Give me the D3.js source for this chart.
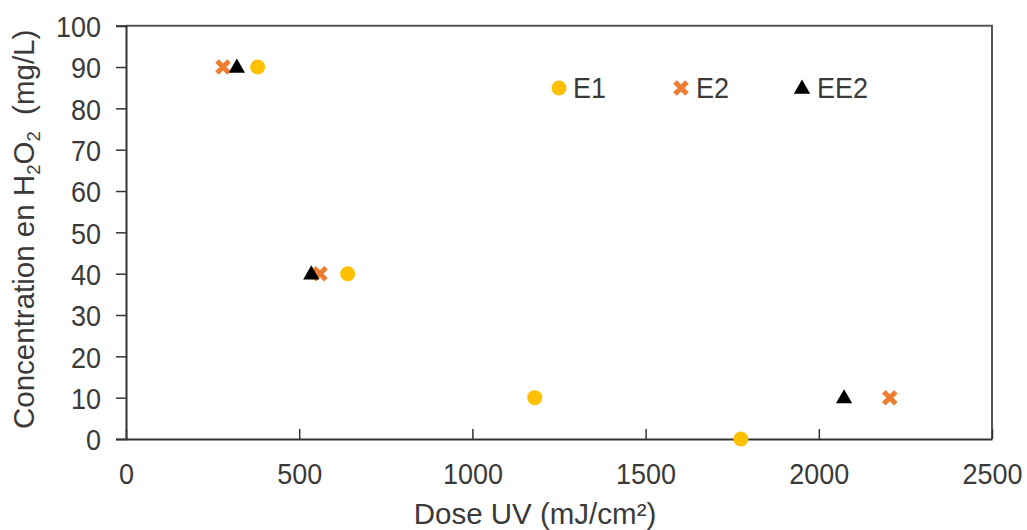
<!DOCTYPE html>
<html><head><meta charset="utf-8">
<script src="https://cdn.jsdelivr.net/npm/d3@7"></script>
<style>body{margin:0;background:#fff}svg{display:block}text{font-family:"Liberation Sans",Arial,sans-serif;fill:#3a3a3a}</style>
</head><body><svg id="c" width="1027" height="530"></svg>
<script>
const seriesNames = ["E1","E2","EE2"];
const e1Dose = [380, 640, 1180, 1775];
const e1Conc = [90, 40, 10, 0];
const e2Dose = [280, 560, 2205];
const e2Conc = [90, 40, 10];
const ee2Dose = [320, 535, 2073];
const ee2Conc = [90, 40, 10];
const xTicks = [0, 500, 1000, 1500, 2000, 2500];
const yTicks = [0,10,20,30,40,50,60,70,80,90,100];
const colors = {E1:"#FFC000", E2:"#ED7D31", EE2:"#000000"};

const svg = d3.select("#c");
const L=126, R=992, T=25.7, B=439;
const x = d3.scaleLinear().domain([0,2500]).range([L,R]);
const y = d3.scaleLinear().domain([0,100]).range([B,T]);
const SY = 1.12;
function stretch(sel){
  sel.each(function(){
    const t=d3.select(this);
    const tx=+t.attr("x")||0, ty=+t.attr("y")||0;
    t.attr("transform",`translate(${tx},${ty}) scale(1,${SY}) translate(${-tx},${-ty})`);
  });
}

// box top/right
svg.append("path").attr("d",`M${L},${T}H${R}V${B}`).attr("fill","none").attr("stroke","#555").attr("stroke-width",2);

// y axis
const ya = svg.append("g").attr("transform",`translate(${L},0)`)
  .call(d3.axisLeft(y).tickValues(yTicks).tickFormat(d3.format("d")).tickSize(10).tickPadding(15));
ya.select(".domain").attr("stroke","#333").attr("stroke-width",2);
ya.selectAll(".tick line").attr("stroke","#333").attr("stroke-width",1.5);
ya.selectAll("text").attr("font-size",27).attr("fill","#3a3a3a").attr("font-family","Liberation Sans, Arial, sans-serif").attr("dy","0.36em").call(stretch);

// x axis with inward ticks
const xa = svg.append("g").attr("transform",`translate(0,${B})`)
  .call(d3.axisBottom(x).tickValues(xTicks).tickFormat(d3.format("d")).tickSize(0).tickPadding(0));
xa.select(".domain").attr("stroke","#333").attr("stroke-width",2);
xa.selectAll(".tick line").attr("y2",-10).attr("stroke","#333").attr("stroke-width",1.5);
xa.selectAll("text").attr("font-size",27).attr("fill","#3a3a3a").attr("font-family","Liberation Sans, Arial, sans-serif").attr("y",45).attr("dy",0).call(stretch);

// titles
svg.append("text").attr("x",535).attr("y",524).attr("text-anchor","middle").attr("font-size",29.5).text("Dose UV (mJ/cm²)");
const yt = svg.append("text").attr("transform",`translate(34,${(T+B)/2 - 3}) rotate(-90)`).attr("text-anchor","middle").attr("font-size",29.5);
yt.append("tspan").text("Concentration en H");
yt.append("tspan").attr("font-size",18.5).attr("dy",6).text("2");
yt.append("tspan").attr("dy",-6).text("O");
yt.append("tspan").attr("font-size",18.5).attr("dy",6).text("2");
yt.append("tspan").attr("dy",-6).text("\u00a0\u00a0(mg/L)");

// marker drawers
function drawCircle(g,cx,cy){ g.append("circle").attr("cx",cx).attr("cy",cy).attr("r",7.5).attr("fill",colors.E1); }
function drawX(g,cx,cy){
  const s=6;
  g.append("path").attr("d",`M${cx-s},${cy-s}L${cx+s},${cy+s}M${cx-s},${cy+s}L${cx+s},${cy-s}`)
   .attr("stroke",colors.E2).attr("stroke-width",5).attr("stroke-linecap","butt");
}
function drawTri(g,cx,cy){
  g.append("path").attr("d",d3.symbol().type(d3.symbolTriangle).size(115)()).attr("transform",`translate(${cx},${cy+1})`).attr("fill",colors.EE2);
}

const pts = svg.append("g");
e1Dose.forEach((d,i)=>drawCircle(pts,x(d),y(e1Conc[i])));
e2Dose.forEach((d,i)=>drawX(pts,x(d),y(e2Conc[i])));
ee2Dose.forEach((d,i)=>drawTri(pts,x(d),y(ee2Conc[i])));

// legend
const lg = svg.append("g");
const legY = 88;
drawCircle(lg,559,legY);
lg.append("text").attr("x",573).attr("y",legY+10).attr("font-size",27).text(seriesNames[0]);
drawX(lg,681,legY);
lg.append("text").attr("x",696).attr("y",legY+10).attr("font-size",27).text(seriesNames[1]);
drawTri(lg,802,legY);
lg.append("text").attr("x",817).attr("y",legY+10).attr("font-size",27).text(seriesNames[2]);
lg.selectAll("text").call(stretch);
</script></body></html>
